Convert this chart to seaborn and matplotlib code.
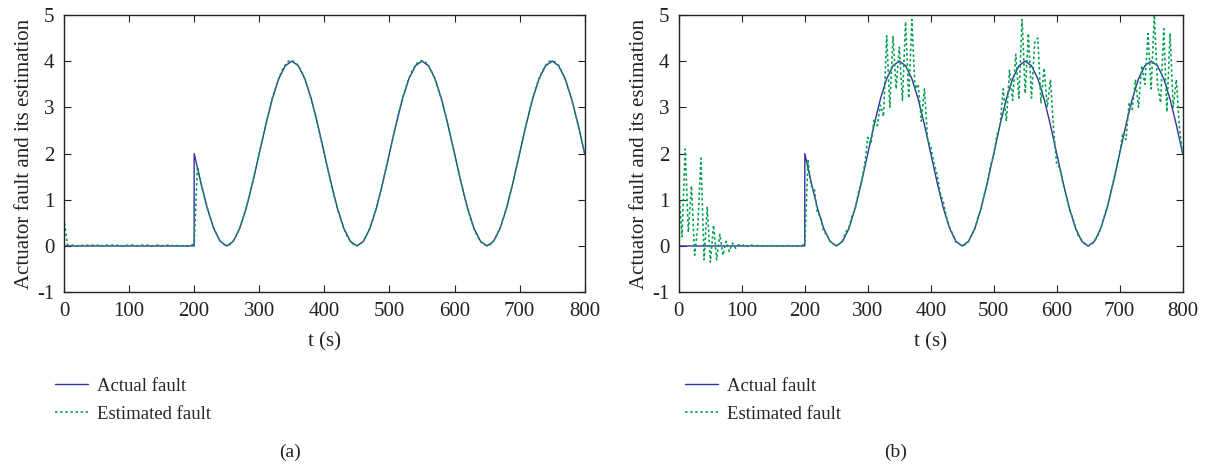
import numpy as np
import matplotlib
matplotlib.use("Agg")
import matplotlib.pyplot as plt
import seaborn as sns

# Actual fault (same in both panels), read every 10 s after the step at t = 200
t_actual = [0, 199.9] + list(range(200, 801, 10))
actual_fault = [0.00, 0.00,
                2.00, 1.38, 0.82, 0.38, 0.10, 0.00, 0.10, 0.38, 0.82, 1.38,
                2.00, 2.62, 3.18, 3.62, 3.90, 4.00, 3.90, 3.62, 3.18, 2.62,
                2.00, 1.38, 0.82, 0.38, 0.10, 0.00, 0.10, 0.38, 0.82, 1.38,
                2.00, 2.62, 3.18, 3.62, 3.90, 4.00, 3.90, 3.62, 3.18, 2.62,
                2.00, 1.38, 0.82, 0.38, 0.10, 0.00, 0.10, 0.38, 0.82, 1.38,
                2.00, 2.62, 3.18, 3.62, 3.90, 4.00, 3.90, 3.62, 3.18, 2.62,
                2.00]

# Estimated fault, sampled every 5 s
t_est = np.arange(0, 801, 5)

est_a = [0.60, 0.03, 0.01, 0.02, 0.00, 0.02, 0.01, 0.02, 0.00, 0.02,
         0.01, 0.03, 0.00, 0.02, 0.01, 0.02, 0.01, 0.02, 0.00, 0.02,
         0.01, 0.02, 0.01, 0.00, 0.02, 0.01, 0.02, 0.00, 0.01, 0.02,
         0.01, 0.00, 0.02, 0.01, 0.00, 0.01, 0.00, 0.01, 0.00, 0.01,
         # 200 - 395
         0.05, 1.72, 1.40, 1.10, 0.84, 0.60, 0.40, 0.23, 0.11, 0.03,
         0.01, 0.03, 0.11, 0.23, 0.40, 0.60, 0.84, 1.10, 1.40, 1.70,
         2.02, 2.32, 2.63, 2.92, 3.20, 3.42, 3.63, 3.80, 3.92, 4.00,
         4.01, 3.98, 3.90, 3.78, 3.61, 3.40, 3.16, 2.90, 2.60, 2.30,
         # 400 - 595
         1.99, 1.68, 1.37, 1.08, 0.81, 0.58, 0.37, 0.21, 0.10, 0.03,
         0.01, 0.03, 0.11, 0.23, 0.39, 0.60, 0.83, 1.10, 1.39, 1.70,
         2.01, 2.32, 2.63, 2.92, 3.19, 3.42, 3.63, 3.79, 3.91, 3.99,
         4.01, 3.98, 3.90, 3.77, 3.61, 3.40, 3.17, 2.90, 2.61, 2.30,
         # 600 - 795
         1.99, 1.68, 1.37, 1.08, 0.81, 0.58, 0.37, 0.21, 0.10, 0.03,
         0.01, 0.03, 0.11, 0.23, 0.39, 0.60, 0.83, 1.10, 1.39, 1.70,
         2.01, 2.32, 2.63, 2.92, 3.19, 3.42, 3.63, 3.79, 3.91, 3.99,
         4.01, 3.98, 3.90, 3.77, 3.61, 3.40, 3.17, 2.90, 2.61, 2.30,
         2.00]

est_b = [1.20, 0.20, 2.10, 0.30, 1.30, -0.20, 0.40, 1.90, -0.30, 0.85,
         -0.35, 0.45, -0.30, 0.25, -0.20, 0.10, -0.12, 0.06, -0.05, 0.03,
         0.00, 0.03, -0.01, 0.02, 0.00, 0.01, 0.00, 0.01, 0.00, 0.01,
         0.00, 0.00, 0.01, 0.00, 0.00, 0.01, 0.00, 0.00, 0.00, 0.00,
         # 200 - 395
         0.05, 1.85, 1.30, 1.25, 0.70, 0.65, 0.30, 0.25, 0.10, 0.05,
         0.00, 0.05, 0.12, 0.30, 0.40, 0.65, 0.80, 1.15, 1.40, 1.75,
         2.35, 2.20, 2.75, 2.60, 3.05, 2.80, 4.55, 3.00, 4.55, 3.40,
         4.30, 3.15, 4.85, 3.20, 4.90, 3.40, 3.50, 2.70, 3.40, 2.30,
         # 400 - 595
         2.15, 1.80, 1.55, 1.15, 0.95, 0.62, 0.40, 0.25, 0.08, 0.04,
         0.00, 0.03, 0.10, 0.24, 0.36, 0.62, 0.80, 1.12, 1.35, 1.75,
         1.95, 2.40, 2.60, 3.40, 2.70, 3.80, 3.15, 4.15, 3.20, 4.90,
         3.30, 4.60, 3.20, 4.40, 4.50, 3.10, 3.85, 3.00, 3.60, 2.55,
         # 600 - 795
         1.75, 1.70, 1.35, 1.10, 0.80, 0.62, 0.40, 0.20, 0.12, 0.03,
         0.00, 0.03, 0.10, 0.22, 0.38, 0.62, 0.82, 1.10, 1.40, 1.70,
         2.00, 2.45, 2.30, 3.10, 2.95, 3.60, 3.00, 3.90, 3.50, 4.60,
         3.40, 5.00, 3.50, 3.10, 4.70, 2.90, 4.60, 3.00, 3.60, 2.55,
         2.00]

panel_labels = ["(a)", "(b)"]
blue = "#3333a3"
green = "#00a04c"
ink = "#222222"

sns.set_theme(style="ticks")
plt.rcParams["font.family"] = ["Liberation Serif", "DejaVu Serif"]
plt.rcParams["axes.unicode_minus"] = False

fig = plt.figure(figsize=(12.08, 4.66), dpi=100)
axes = [fig.add_axes([0.053, 0.373, 0.431, 0.595]),
        fig.add_axes([0.562, 0.373, 0.417, 0.595])]
legend_x = [0.0455, 0.567]
label_x = [0.240, 0.741]

for ax, est, lab, lx, px in zip(axes, [est_a, est_b], panel_labels, legend_x, label_x):
    sns.lineplot(x=t_actual, y=actual_fault, ax=ax, color=blue, linewidth=1.0,
                 estimator=None, sort=False, label="Actual fault")
    sns.lineplot(x=t_est, y=est, ax=ax, color=green, linewidth=1.15,
                 linestyle=(0, (1.6, 1.6)), estimator=None, sort=False,
                 label="Estimated fault")
    ax.set_xlim(0, 800)
    ax.set_ylim(-1, 5)
    ax.set_xticks(range(0, 801, 100))
    ax.set_yticks(range(-1, 6))
    ax.tick_params(direction="in", top=True, right=True, length=5,
                   labelsize=15, colors=ink, width=0.8, pad=7)
    for s in ax.spines.values():
        s.set_linewidth(1.0)
        s.set_color(ink)
    ax.set_xlabel("t (s)", fontsize=15, color=ink, labelpad=8)
    ax.set_ylabel("Actuator fault and its estimation", fontsize=15,
                  color=ink, labelpad=2)
    ax.legend(loc="upper left", bbox_to_anchor=(lx, 0.19),
              bbox_transform=fig.transFigure, frameon=False, fontsize=13.5,
              handlelength=1.75, handletextpad=0.5, labelspacing=0.6,
              borderpad=0, borderaxespad=0)
    fig.text(px, 1 - 452 / 466, lab, ha="center", va="center",
             fontsize=14, color=ink)

fig.savefig("out.png", dpi=100)
